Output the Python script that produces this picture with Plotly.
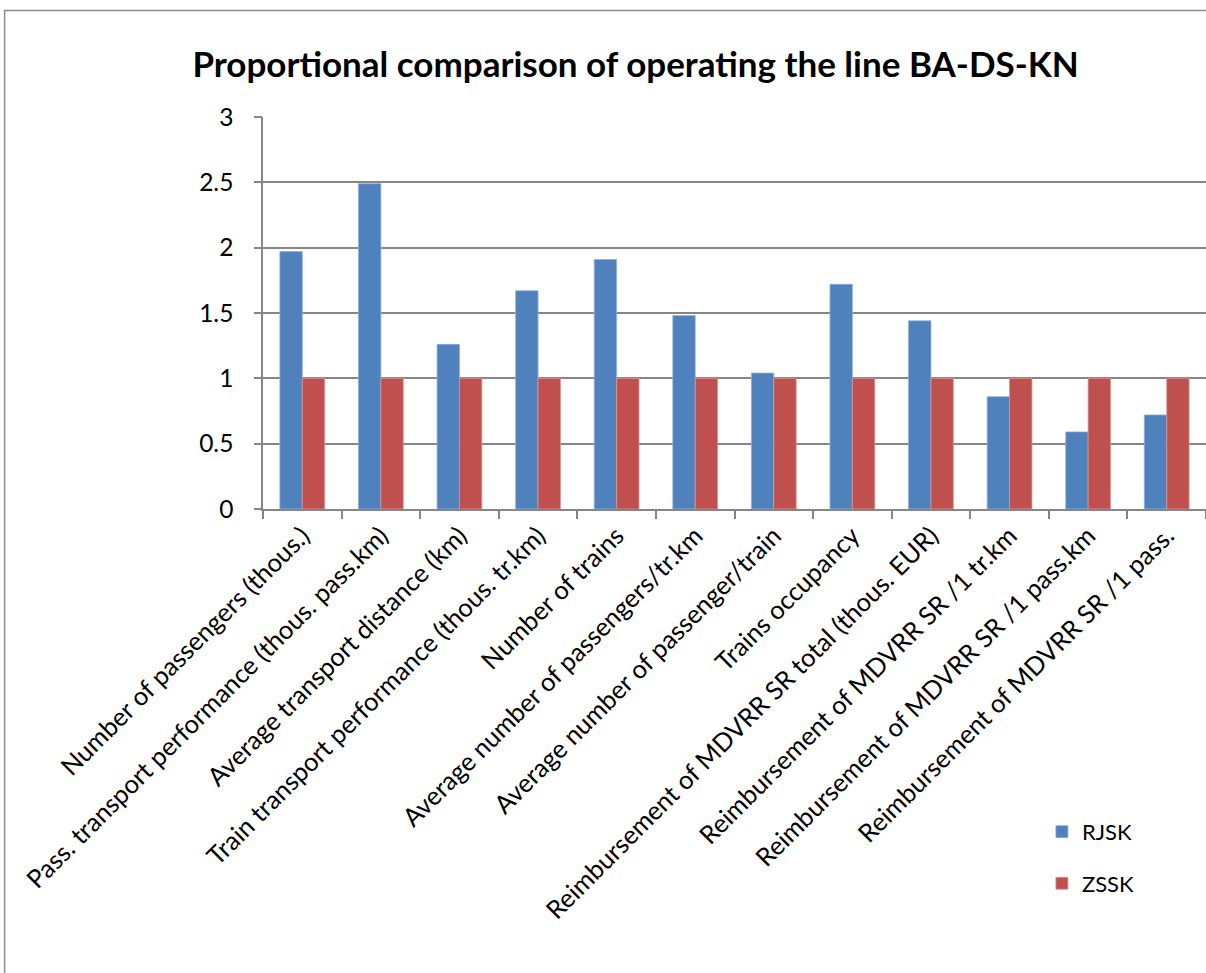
import plotly.graph_objects as go

categories = [
    "Number of passengers (thous.)",
    "Pass. transport performance (thous. pass.km)",
    "Average transport distance (km)",
    "Train transport performance (thous. tr.km)",
    "Number of trains",
    "Average number of passengers/tr.km",
    "Average number of passenger/train",
    "Trains occupancy",
    "Reimbursement of MDVRR SR total (thous. EUR)",
    "Reimbursement of MDVRR SR /1 tr.km",
    "Reimbursement of MDVRR SR /1 pass.km",
    "Reimbursement of MDVRR SR /1 pass.",
]
rjsk = [1.97, 2.49, 1.26, 1.67, 1.91, 1.48, 1.04, 1.72, 1.44, 0.86, 0.59, 0.72]
zssk = [1, 1, 1, 1, 1, 1, 1, 1, 1, 1, 1, 1]
y_ticks = [0, 0.5, 1, 1.5, 2, 2.5, 3]

FONT = "Lato"
GRID = "#868686"

fig = go.Figure()
fig.add_trace(go.Bar(x=categories, y=rjsk, name="RJSK", legendgroup="a",
                     marker=dict(color="#4F81BD", line=dict(color="#8FB0DA", width=0.8))))
fig.add_trace(go.Bar(x=categories, y=zssk, name="ZSSK", legendgroup="b",
                     marker=dict(color="#C0504D", line=dict(color="#DA9694", width=0.8))))
# helper trace so the overlaid tick-mark axis is drawn
fig.add_trace(go.Scatter(x=[categories[0]], y=[None], yaxis="y2", mode="markers",
                         showlegend=False, hoverinfo="skip"))

fig.update_layout(
    width=1206, height=973,
    margin=dict(l=263, r=0, t=117, b=464, autoexpand=False),
    paper_bgcolor="white", plot_bgcolor="white",
    barmode="group", bargap=0.43, bargroupgap=0,
    font=dict(family=FONT, size=23, color="#000000"),
    title=dict(text="<b>Proportional comparison of operating the line BA-DS-KN</b>",
               font=dict(family=FONT, size=35, color="#000000"),
               x=0.527, xref="container", xanchor="center",
               y=0.933, yref="container", yanchor="middle"),
    legend=dict(x=0.826, y=-0.77, xanchor="left", yanchor="top",
                font=dict(family=FONT, size=22), tracegroupgap=20,
                bgcolor="rgba(0,0,0,0)"),
    xaxis=dict(type="category", range=[-0.5, len(categories) - 0.5],
               tickangle=-45, tickson="boundaries",
               ticks="outside", ticklen=8, tickcolor=GRID, tickwidth=1.5,
               showline=True, linecolor=GRID, linewidth=1.5,
               showgrid=False, tickfont=dict(family=FONT, size=25.5)),
    yaxis=dict(range=[0, 3], tickvals=y_ticks, ticks="outside", ticklen=23,
               tickcolor="rgba(0,0,0,0)", tickwidth=1.5, showline=True,
               linecolor=GRID, linewidth=1.5, showgrid=True, gridcolor=GRID,
               gridwidth=1.5, zeroline=False,
               tickfont=dict(family=FONT, size=24.5)),
    yaxis2=dict(range=[0, 3], tickvals=y_ticks, overlaying="y", side="left",
                anchor="x", ticks="outside", ticklen=8, tickcolor=GRID,
                tickwidth=1.5, showticklabels=False, showgrid=False,
                showline=False, zeroline=False),
)

fig.add_shape(type="rect", xref="paper", yref="paper",
              x0=-0.274, x1=1.05, y0=-1.5, y1=1.272,
              line=dict(color="#8C8C8C", width=1.5), fillcolor="rgba(0,0,0,0)",
              layer="below")

fig.write_html("out.html",
               config={"displayModeBar": False},
               post_script="document.body.style.margin='0';"
                           "document.body.style.overflow='hidden';")
